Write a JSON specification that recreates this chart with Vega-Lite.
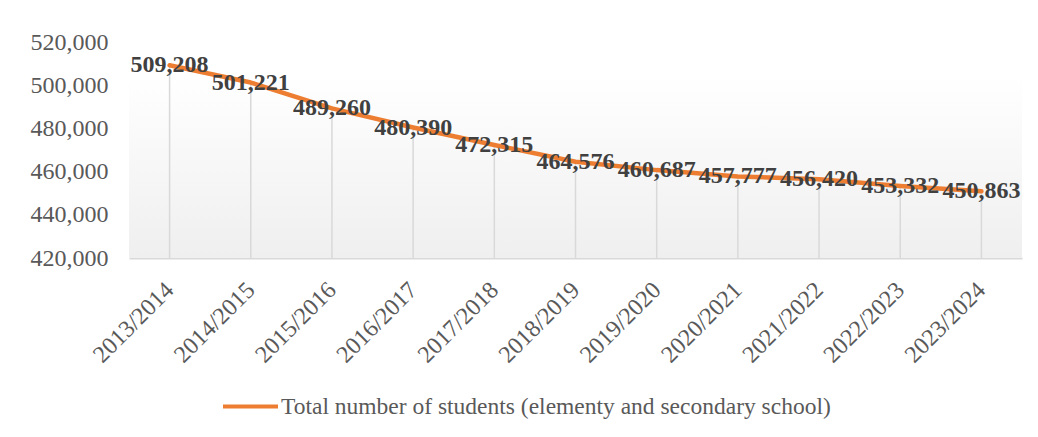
{
  "$schema": "https://vega.github.io/schema/vega-lite/v6.json",
  "autosize": {"type": "none"},
  "width": 893,
  "height": 216,
  "padding": {"left": 129, "top": 42, "right": 16, "bottom": 179},
  "background": "white",
  "config": {"view": {"stroke": null}, "font": "Liberation Serif", "style": {"guide-label": {"font": "Liberation Serif"}}},
  "data": {"values": [
    {"year": "2013/2014", "students": 509208, "series": "Total number of students (elementy and secondary school)"},
    {"year": "2014/2015", "students": 501221, "series": "Total number of students (elementy and secondary school)"},
    {"year": "2015/2016", "students": 489260, "series": "Total number of students (elementy and secondary school)"},
    {"year": "2016/2017", "students": 480390, "series": "Total number of students (elementy and secondary school)"},
    {"year": "2017/2018", "students": 472315, "series": "Total number of students (elementy and secondary school)"},
    {"year": "2018/2019", "students": 464576, "series": "Total number of students (elementy and secondary school)"},
    {"year": "2019/2020", "students": 460687, "series": "Total number of students (elementy and secondary school)"},
    {"year": "2020/2021", "students": 457777, "series": "Total number of students (elementy and secondary school)"},
    {"year": "2021/2022", "students": 456420, "series": "Total number of students (elementy and secondary school)"},
    {"year": "2022/2023", "students": 453332, "series": "Total number of students (elementy and secondary school)"},
    {"year": "2023/2024", "students": 450863, "series": "Total number of students (elementy and secondary school)"}
  ]},
  "encoding": {
    "x": {"field": "year", "type": "nominal", "scale": {"type": "point", "padding": 0.5},
      "axis": {"title": null, "labelAngle": -45, "labelAlign": "right", "labelBaseline": "middle", "labelPadding": 28, "labelFontSize": 24, "labelColor": "#595959", "labelFont": "Liberation Serif", "ticks": false, "domainColor": "#d9d9d9", "domainWidth": 2, "grid": false,
        "encode": {"labels": {"update": {"font": {"value": "Liberation Serif"}}}}}},
    "y": {"field": "students", "type": "quantitative", "scale": {"domain": [420000, 520000], "nice": false, "zero": false},
      "axis": {"title": null, "values": [420000, 440000, 460000, 480000, 500000, 520000], "labelExpr": "format(datum.value, ',')", "domain": false, "ticks": false, "grid": false, "labelPadding": 21, "labelFontSize": 24, "labelColor": "#595959", "labelFont": "Liberation Serif",
        "encode": {"labels": {"update": {"font": {"value": "Liberation Serif"}}}}}}
  },
  "layer": [
    {
      "data": {"values": [{}]},
      "mark": {"type": "rect", "color": {"gradient": "linear", "x1": 0, "y1": 0, "x2": 0, "y2": 1, "stops": [{"offset": 0, "color": "#ffffff"}, {"offset": 0.15, "color": "#ffffff"}, {"offset": 1, "color": "#efefef"}]}},
      "encoding": {
        "x": {"value": 0},
        "x2": {"value": "width"},
        "y": {"value": 0},
        "y2": {"value": "height"}
      }
    },
    {
      "mark": {"type": "rule", "color": "#d9d9d9", "strokeWidth": 1.5},
      "encoding": {
        "y2": {"datum": 420000}
      }
    },
    {
      "mark": {"type": "line", "strokeWidth": 4.5, "strokeCap": "round", "strokeJoin": "round"},
      "encoding": {
        "color": {"field": "series", "type": "nominal", "scale": {"range": ["#ED7D31"]},
          "legend": {"title": null, "orient": "none", "legendX": 92, "legendY": 335, "padding": 0, "symbolType": "stroke", "symbolSize": 3025, "symbolStrokeWidth": 4, "labelFontSize": 23.5, "labelColor": "#595959", "labelFont": "Liberation Serif", "labelOffset": 1, "labelLimit": 0}}
      }
    },
    {
      "mark": {"type": "text", "fontWeight": "bold", "fontSize": 24, "color": "#404040", "align": "center", "baseline": "middle", "font": "Liberation Serif"},
      "encoding": {
        "text": {"field": "students", "type": "quantitative", "format": ","}
      }
    }
  ]
}
